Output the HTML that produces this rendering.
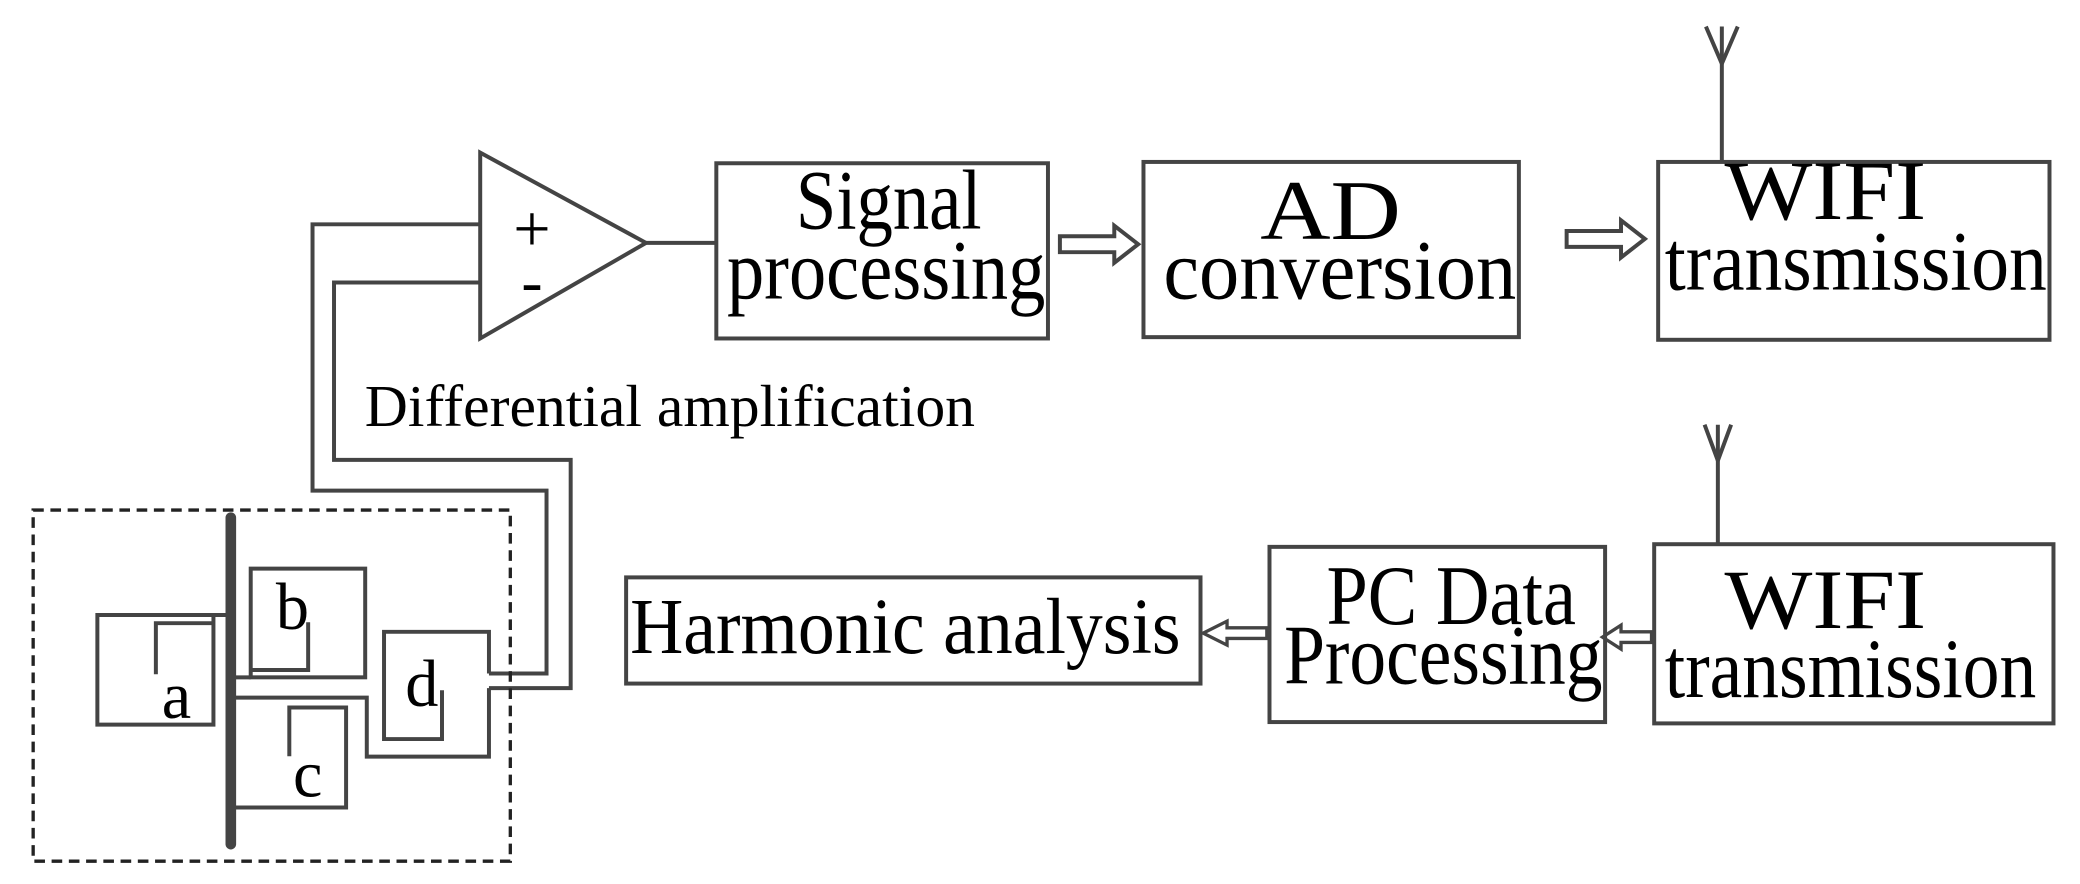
<!DOCTYPE html>
<html><head><meta charset="utf-8"><style>html,body{margin:0;padding:0;background:#fff}svg{display:block}</style></head>
<body>
<svg width="2080" height="884" viewBox="0 0 1568 666" preserveAspectRatio="none" xmlns="http://www.w3.org/2000/svg">
<g fill="none" stroke="#444" stroke-width="3">
<polygon points="362,115 487,183 362,255"/>
<line x1="487" y1="183" x2="540" y2="183"/>
<polyline points="362,169 235.6,169 235.6,369.6 412,369.6 412,507.4 368.6,507.4"/>
<polyline points="362,212.8 251.8,212.8 251.8,346.5 430.2,346.5 430.2,518.4 368.6,518.4"/>
<rect x="25" y="384.3" width="359.7" height="264.5" stroke-dasharray="8,5" stroke-width="2.5" stroke="#222"/>
<polyline points="174,463.3 73.4,463.3 73.4,545.9 160.9,545.9 160.9,463.3"/>
<polyline points="117.5,508 117.5,469.5 160.9,469.5"/>
<rect x="189" y="428.4" width="86.3" height="81.9"/>
<line x1="174" y1="510.3" x2="189" y2="510.3"/>
<polyline points="189,504.8 232.3,504.8 232.3,468.8"/>
<polyline points="174,608.4 260.9,608.4 260.9,533 218.1,533 218.1,569.8"/>
<polyline points="368.6,507.4 368.6,476 289.5,476 289.5,556.8 333.2,556.8 333.2,520"/>
<polyline points="368.6,518.4 368.6,570 276.5,570 276.5,525.6 174,525.6"/>
<rect x="540" y="123" width="250" height="132"/>
<rect x="862" y="122" width="283" height="132"/>
<rect x="1250" y="122" width="295" height="134"/>
<rect x="1247" y="410" width="301" height="135"/>
<rect x="957" y="412" width="253" height="132"/>
<rect x="472" y="435" width="433" height="80"/>
<line x1="1298" y1="20" x2="1298" y2="122"/>
<polyline points="1286,20 1298,48 1310,20"/>
<line x1="1295" y1="320" x2="1295" y2="410"/>
<polyline points="1285,320 1295,347 1305,320"/>
<polygon points="799,178 840,178 840,170 858,184 840,198 840,190 799,190"/>
<polygon points="1181,174 1222,174 1222,166 1240,180 1222,194 1222,186 1181,186"/>
<polygon points="1245,476 1222,476 1222,471 1208,480 1222,489 1222,484 1245,484" stroke-width="2.5"/>
<polygon points="955,473 925,473 925,468 907,477 925,486 925,481 955,481" stroke-width="2.5"/>
</g>
<line x1="174" y1="390" x2="174" y2="636" stroke="#444" stroke-width="8" stroke-linecap="round"/>
<g font-family="'Liberation Serif', 'Times New Roman', serif" fill="#000">
<text x="401" y="189" font-size="50" text-anchor="middle">+</text>
<text x="401" y="228" font-size="48" text-anchor="middle">-</text>
<text x="133" y="541" font-size="50" text-anchor="middle">a</text>
<text x="220.5" y="474" font-size="50" text-anchor="middle">b</text>
<text x="232" y="600" font-size="50" text-anchor="middle">c</text>
<text x="318" y="532" font-size="50" text-anchor="middle">d</text>
<text x="275" y="321" font-size="45" textLength="460" lengthAdjust="spacingAndGlyphs">Differential amplification</text>
<text x="600" y="172" font-size="64" textLength="140" lengthAdjust="spacingAndGlyphs">Signal</text>
<text x="548" y="225" font-size="64" textLength="240" lengthAdjust="spacingAndGlyphs">processing</text>
<text x="950" y="180" font-size="64" textLength="106" lengthAdjust="spacingAndGlyphs">AD</text>
<text x="877" y="225" font-size="64" textLength="266" lengthAdjust="spacingAndGlyphs">conversion</text>
<text x="1300" y="165" font-size="64" textLength="152" lengthAdjust="spacingAndGlyphs">WIFI</text>
<text x="1255" y="218" font-size="64" textLength="288" lengthAdjust="spacingAndGlyphs">transmission</text>
<text x="1300" y="473" font-size="64" textLength="152" lengthAdjust="spacingAndGlyphs">WIFI</text>
<text x="1255" y="525" font-size="64" textLength="280" lengthAdjust="spacingAndGlyphs">transmission</text>
<text x="1000" y="470" font-size="64" textLength="188" lengthAdjust="spacingAndGlyphs">PC Data</text>
<text x="968" y="515" font-size="64" textLength="240" lengthAdjust="spacingAndGlyphs">Processing</text>
<text x="475" y="492" font-size="60" textLength="415" lengthAdjust="spacingAndGlyphs">Harmonic analysis</text>
</g>
</svg>
</body></html>
